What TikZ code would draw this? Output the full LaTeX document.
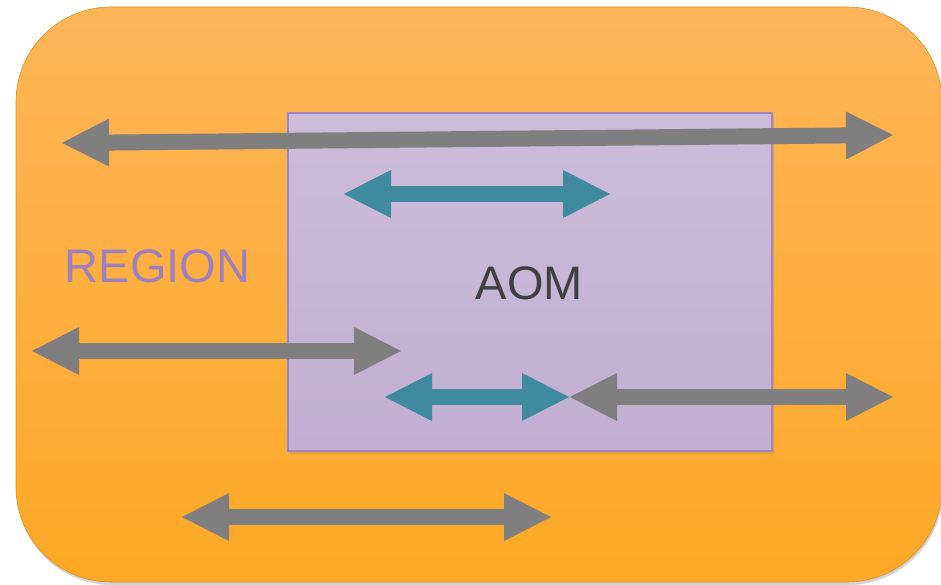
\documentclass[tikz,border=0pt]{standalone}
\usepackage{fontspec}
\setmainfont{Liberation Sans}
\usetikzlibrary{arrows.meta,shadows}
\definecolor{orangetop}{RGB}{253,181,88}
\definecolor{orangebot}{RGB}{253,168,38}
\definecolor{purpletop}{RGB}{204,188,218}
\definecolor{purplebot}{RGB}{194,175,211}
\definecolor{purpleedge}{RGB}{160,132,196}
\definecolor{regiontext}{RGB}{158,128,192}
\definecolor{aomtext}{RGB}{64,64,64}
\definecolor{arrgray}{RGB}{127,127,127}
\definecolor{arrteal}{RGB}{64,138,160}
\tikzset{
  regionbox/.style={rectangle, rounded corners=95pt, inner sep=0pt,
    top color=orangetop, bottom color=orangebot,
    draw=orangebot!85!black, line width=0.6pt,
    drop shadow={shadow xshift=1pt, shadow yshift=-3pt, opacity=0.35}},
  aombox/.style={rectangle, inner sep=0pt,
    top color=purpletop, bottom color=purplebot,
    draw=purpleedge, line width=1.5pt,
    drop shadow={shadow xshift=2pt, shadow yshift=-3pt, opacity=0.25}},
  bigtext/.style={font=\fontsize{47}{50}\selectfont, inner sep=0pt},
  tip/.style={Triangle[length=47pt,width=48pt,line width=0pt]},
  darrow/.style={line width=16pt, {Triangle[length=47pt,width=48pt,line width=0pt]}-{Triangle[length=47pt,width=48pt,line width=0pt]}},
  grayarrow/.style={darrow, draw=arrgray, fill=arrgray},
  tealarrow/.style={darrow, draw=arrteal, fill=arrteal},
}
\begin{document}
\begin{tikzpicture}[x=1pt,y=-1pt]
\useasboundingbox (0,0) rectangle (941,585);
\node[regionbox, minimum width=926pt, minimum height=575pt] (region) at (479,294.5) {};
\node[aombox, minimum width=484pt, minimum height=338pt] (aom) at (530,282) {};
\node[bigtext, text=regiontext] (regionlabel) at (157.5,266) {REGION};
\node[bigtext, text=aomtext] (aomlabel) at (529.5,283) {AOM};
% endpoints
\coordinate (a1l) at (62,143);
\coordinate (a1r) at (893,135);
\coordinate (a2l) at (32,351);
\coordinate (a2r) at (401,351);
\coordinate (a3l) at (570,397);
\coordinate (a3r) at (893,397);
\coordinate (a4l) at (182,517);
\coordinate (a4r) at (551,517);
\coordinate (t1l) at (344,194);
\coordinate (t1r) at (610,194);
\coordinate (t2l) at (385,397);
\coordinate (t2r) at (569,397);
% arrows
\draw[grayarrow] (a1l) -- (a1r);
\draw[tealarrow] (t1l) -- (t1r);
\draw[grayarrow] (a2l) -- (a2r);
\draw[tealarrow] (t2l) -- (t2r);
\draw[grayarrow] (a3l) -- (a3r);
\draw[grayarrow] (a4l) -- (a4r);
\end{tikzpicture}
\end{document}
